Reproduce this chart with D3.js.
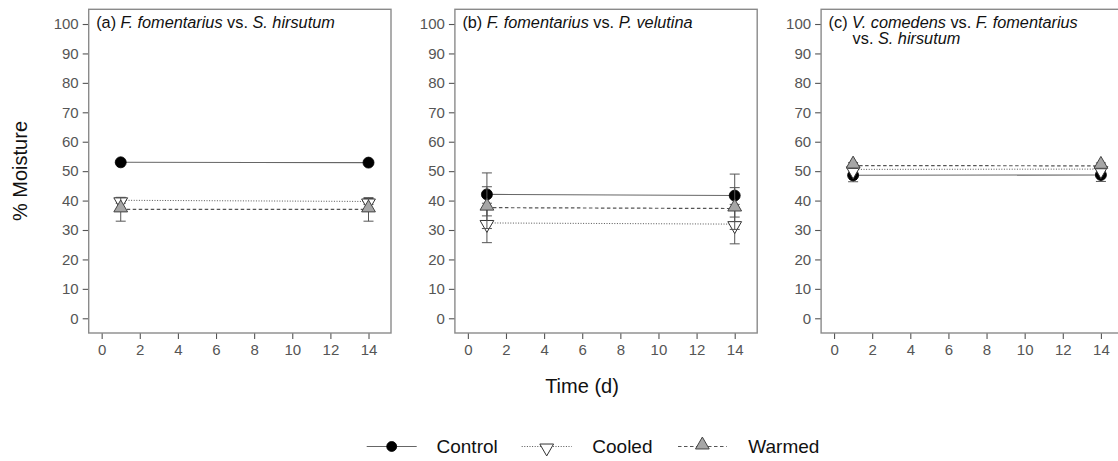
<!DOCTYPE html>
<html>
<head>
<meta charset="utf-8">
<script src="https://cdn.jsdelivr.net/npm/d3@7/dist/d3.min.js"></script>
<style>
  html, body { margin: 0; padding: 0; background: #fff; }
  svg { display: block; font-family: "Liberation Sans", Arial, sans-serif; }
</style>
</head>
<body>
<svg id="chart" width="1118" height="461"></svg>
<script>
// Sampling days
const days = [1, 14];

// Panel titles: [text, style] pieces, "i" = italic species name
const panelTitles = [
  [["(a) ", "n"], ["F. fomentarius", "i"], [" vs. ", "n"], ["S. hirsutum", "i"]],
  [["(b) ", "n"], ["F. fomentarius", "i"], [" vs. ", "n"], ["P. velutina", "i"]],
  [["(c) ", "n"], ["V. comedens", "i"], [" vs. ", "n"], ["F. fomentarius", "i"]]
];
const panelTitleLine2 = [null, null, [["vs. ", "n"], ["S. hirsutum", "i"]]];

// Mean % moisture per panel (a, b, c) at days 1 and 14
const controlMean = [[53.0, 52.9], [42.1, 41.7], [48.6, 48.7]];
const cooledMean  = [[40.1, 39.7], [32.4, 32.0], [50.6, 50.7]];
const warmedMean  = [[37.0, 37.0], [37.6, 37.3], [51.9, 51.8]];

// Standard errors
const controlErr = [[0.5, 0.5], [7.3, 7.3], [2.2, 2.2]];
const cooledErr  = [[1.0, 1.0], [6.7, 6.7], [1.0, 1.0]];
const warmedErr  = [[4.0, 4.0], [7.1, 7.1], [1.0, 1.0]];

const treatments = ["Control", "Cooled", "Warmed"];
const yTicks = [0, 10, 20, 30, 40, 50, 60, 70, 80, 90, 100];
const xTicks = [0, 2, 4, 6, 8, 10, 12, 14];

const FONT = '"Liberation Sans", Arial, sans-serif';
const svg = d3.select("#chart");

const panelLeft0 = 88.7, panelStep = 366.2, panelW = 302.3;
const panelTop = 9.3, panelBottom = 333;

const y = d3.scaleLinear().domain([-5, 105]).range([panelBottom, panelTop]);

const styles = {
  Control: { dash: null, lineColor: "#666", lineW: 1.1 },
  Cooled:  { dash: "1,1.6", lineColor: "#555", lineW: 1 },
  Warmed:  { dash: "3.5,2.5", lineColor: "#555", lineW: 1.2 }
};

const triUp = d3.symbol().type(d3.symbolTriangle).size(82);

function drawMarker(g, name, cx, cy, r) {
  if (name === "Control") {
    g.append("circle").attr("cx", cx).attr("cy", cy).attr("r", r)
      .attr("fill", "#000").attr("stroke", "#000").attr("stroke-width", 0.8);
  } else if (name === "Cooled") {
    g.append("path").attr("d", triUp())
      .attr("transform", `translate(${cx},${cy + 1.5}) rotate(180)`)
      .attr("fill", "#fff").attr("stroke", "#333").attr("stroke-width", 1);
  } else {
    g.append("path").attr("d", triUp())
      .attr("transform", `translate(${cx},${cy - 1.5})`)
      .attr("fill", "#a6a6a6").attr("stroke", "#444").attr("stroke-width", 1);
  }
}

const seriesData = {
  Control: [controlMean, controlErr],
  Cooled: [cooledMean, cooledErr],
  Warmed: [warmedMean, warmedErr]
};

for (let p = 0; p < 3; p++) {
  const left = panelLeft0 + p * panelStep;
  const x = d3.scaleLinear().domain([-0.68, 15.18]).range([left, left + panelW]);
  const g = svg.append("g");

  // Y axis
  const yAxis = g.append("g").attr("transform", `translate(${left},0)`)
    .call(d3.axisLeft(y).tickValues(yTicks).tickSize(6).tickPadding(4));
  // X axis
  const xAxis = g.append("g").attr("transform", `translate(0,${panelBottom})`)
    .call(d3.axisBottom(x).tickValues(xTicks).tickSize(6).tickPadding(5));
  [yAxis, xAxis].forEach(a => {
    a.attr("font-family", FONT).attr("font-size", 15);
    a.select(".domain").remove();
    a.selectAll(".tick line").attr("stroke", "#555").attr("stroke-width", 1.1);
    a.selectAll(".tick text").attr("fill", "#555");
  });

  // Panel frame
  g.append("rect").attr("x", left).attr("y", panelTop)
    .attr("width", panelW).attr("height", panelBottom - panelTop)
    .attr("fill", "none").attr("stroke", "#8a8a8a").attr("stroke-width", 1.4);

  // Title
  const t = g.append("text").attr("x", left + 7.5).attr("y", 28)
    .attr("fill", "#111").style("font-size", "16.3px");
  panelTitles[p].forEach(([s, f]) => t.append("tspan").text(s)
    .style("font-style", f === "i" ? "italic" : "normal"));
  if (panelTitleLine2[p]) {
    const t2 = g.append("text").attr("x", left + 31.5).attr("y", 44)
      .attr("fill", "#111").style("font-size", "16.3px");
    panelTitleLine2[p].forEach(([s, f]) => t2.append("tspan").text(s)
      .style("font-style", f === "i" ? "italic" : "normal"));
  }

  // Series: lines, error bars, markers
  treatments.forEach(name => {
    const [means, errs] = seriesData[name];
    const st = styles[name];
    const pts = days.map((d, i) => ({ d, m: means[p][i], e: errs[p][i] }));
    const line = d3.line().x(q => x(q.d)).y(q => y(q.m));
    g.append("path").datum(pts).attr("d", line)
      .attr("fill", "none").attr("stroke", st.lineColor)
      .attr("stroke-width", st.lineW)
      .attr("stroke-dasharray", st.dash);
    pts.forEach(q => {
      const cx = x(q.d);
      const eg = g.append("g").attr("stroke", "#555").attr("stroke-width", 1);
      eg.append("line").attr("x1", cx).attr("x2", cx)
        .attr("y1", y(q.m - q.e)).attr("y2", y(q.m + q.e));
      [q.m - q.e, q.m + q.e].forEach(v => eg.append("line")
        .attr("x1", cx - 5).attr("x2", cx + 5).attr("y1", y(v)).attr("y2", y(v)));
    });
    pts.forEach(q => drawMarker(g, name, x(q.d), y(q.m), 5.5));
  });
}

// Axis titles
svg.append("text").attr("transform", "translate(27,171) rotate(-90)")
  .attr("text-anchor", "middle").attr("fill", "#111")
  .style("font-size", "20px").text("% Moisture");
svg.append("text").attr("x", 582).attr("y", 393)
  .attr("text-anchor", "middle").attr("fill", "#111")
  .style("font-size", "20px").text("Time (d)");

// Legend
const legendItems = [
  { name: "Control", x0: 366.7, x1: 416.7, tx: 436.5 },
  { name: "Cooled",  x0: 521.7, x1: 571.7, tx: 592.3 },
  { name: "Warmed",  x0: 678,   x1: 726.7, tx: 748.3 }
];
const ly = 446.5;
legendItems.forEach(it => {
  const st = styles[it.name];
  const lg = svg.append("g");
  lg.append("line").attr("x1", it.x0).attr("x2", it.x1).attr("y1", ly).attr("y2", ly)
    .attr("stroke", st.lineColor).attr("stroke-width", st.lineW)
    .attr("stroke-dasharray", st.dash);
  drawMarker(lg, it.name, (it.x0 + it.x1) / 2, ly, 5);
  lg.append("text").attr("x", it.tx).attr("y", ly + 6.8)
    .attr("fill", "#111").style("font-size", "19px").text(it.name);
});
</script>
</body>
</html>
